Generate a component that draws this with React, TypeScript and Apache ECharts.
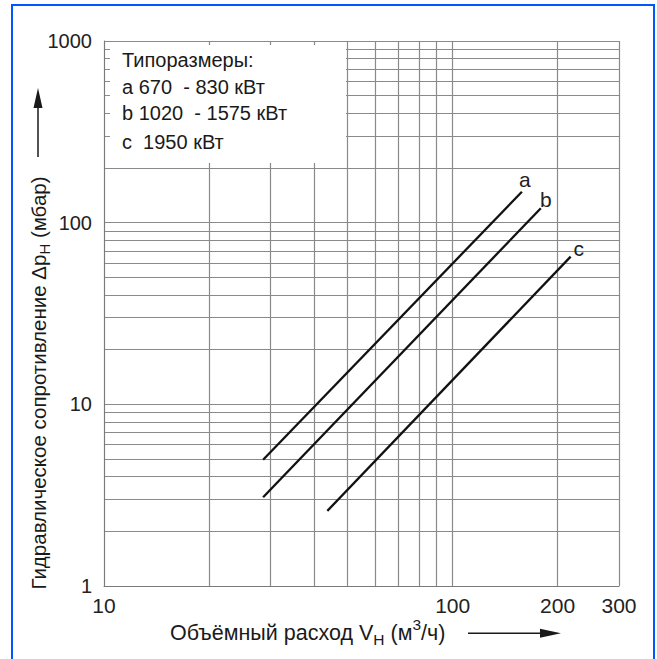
import React, { useEffect, useRef } from 'react';
import * as echarts from 'echarts';

// Axis ticks / labels
const xTickLabels = [10, 100, 200, 300];
const xGridValues = [10, 20, 30, 40, 50, 60, 70, 80, 90, 100, 200, 300];
const yTickLabels = [1, 10, 100, 1000];
const yGridValues = [
  1, 2, 3, 4, 5, 6, 7, 8, 9,
  10, 20, 30, 40, 50, 60, 70, 80, 90,
  100, 200, 300, 400, 500, 600, 700, 800, 900, 1000,
];

// Series (volume flow m3/h -> pressure drop mbar)
const seriesNames = ['a', 'b', 'c'];
const flowA = [28.6, 158];
const dropA = [4.95, 148];
const flowB = [28.6, 179];
const dropB = [3.08, 120];
const flowC = [43.7, 218];
const dropC = [2.59, 65];

// Legend box texts
const legendTitle = 'Типоразмеры:';
const legendLines = ['a 670  - 830 кВт', 'b 1020  - 1575 кВт', 'c  1950 кВт'];

const FONT = '"Liberation Sans", Arial, sans-serif';
const labelOffsets = [[3, -12], [5, -9], [8, -8]];

function buildSeries(name: string, flow: number[], drop: number[], off: number[]) {
  return {
    type: 'line',
    name,
    symbol: 'circle',
    symbolSize: 0,
    showSymbol: true,
    lineStyle: { color: '#111', width: 2.3 },
    itemStyle: { color: '#111' },
    z: 5,
    data: flow.map((x, i) =>
      i === flow.length - 1
        ? {
            value: [x, drop[i]],
            label: {
              show: true,
              formatter: name,
              position: off,
              align: 'center',
              verticalAlign: 'middle',
              fontSize: 21,
              fontFamily: FONT,
              color: '#222',
            },
          }
        : [x, drop[i]]
    ),
  };
}

export default function App() {
  const ref = useRef<HTMLDivElement>(null);
  useEffect(() => {
    if (!ref.current) return;
    const chart = echarts.init(ref.current, undefined, { renderer: 'svg' });
    const gridColor = '#8a8a8a';
    const legendYs = [60, 86.7, 113.3, 141.7];
    chart.setOption({
      animation: false,
      backgroundColor: '#fff',
      textStyle: { fontFamily: FONT },
      grid: { left: 104, right: 38, top: 41, bottom: 73 },
      xAxis: {
        type: 'log',
        logBase: 10,
        min: 10,
        max: 300,
        axisLine: { show: true, lineStyle: { color: '#7a7a7a', width: 1 } },
        axisTick: { show: false, customValues: xGridValues },
        axisLabel: {
          customValues: xTickLabels,
          formatter: (v: number) => String(v),
          fontSize: 21,
          color: '#222',
          margin: 9,
          fontFamily: FONT,
        },
        splitLine: { show: true, lineStyle: { color: gridColor, width: 1.2 } },
      },
      yAxis: {
        type: 'log',
        logBase: 10,
        min: 1,
        max: 1000,
        axisLine: { show: true, lineStyle: { color: '#7a7a7a', width: 1 } },
        axisTick: { show: false, customValues: yGridValues },
        axisLabel: {
          customValues: yTickLabels,
          formatter: (v: number) => String(v),
          fontSize: 20,
          color: '#222',
          margin: 12,
          fontFamily: FONT,
        },
        splitLine: { show: true, lineStyle: { color: gridColor, width: 1.2 } },
      },
      series: [
        buildSeries(seriesNames[0], flowA, dropA, labelOffsets[0]),
        buildSeries(seriesNames[1], flowB, dropB, labelOffsets[1]),
        buildSeries(seriesNames[2], flowC, dropC, labelOffsets[2]),
      ],
      graphic: [
        {
          type: 'rect',
          z: 50,
          silent: true,
          shape: { x: 12, y: 5, width: 642, height: 680 },
          style: { fill: 'none', stroke: '#0057ff', lineWidth: 2 },
        },
        {
          type: 'rect',
          z: 50,
          silent: true,
          shape: { x: 110, y: 45, width: 236, height: 118 },
          style: { fill: '#ffffff' },
        },
        {
          type: 'text',
          z: 51,
          x: 122,
          y: legendYs[0],
          style: { text: legendTitle, font: `20px ${FONT}`, fill: '#1a1a1a', verticalAlign: 'middle' },
        },
        ...legendLines.map((t, i) => ({
          type: 'text',
          z: 51,
          x: 122,
          y: legendYs[i + 1],
          style: { text: t, font: `20px ${FONT}`, fill: '#1a1a1a', verticalAlign: 'middle' },
        })),
        {
          type: 'text',
          z: 51,
          x: 38,
          y: 383,
          rotation: Math.PI / 2,
          style: {
            text: 'Гидравлическое сопротивление Δp{sub|H} (мбар)',
            fontSize: 20.5,
            fontFamily: FONT,
            fill: '#1a1a1a',
            align: 'center',
            verticalAlign: 'middle',
            rich: {
              sub: { fontSize: 15, fontFamily: FONT, fill: '#1a1a1a', padding: [12, 0, 0, 0] },
            },
          },
        },
        {
          type: 'line',
          z: 51,
          shape: { x1: 38, y1: 157, x2: 38, y2: 104 },
          style: { stroke: '#1a1a1a', lineWidth: 1.5 },
        },
        {
          type: 'polygon',
          z: 51,
          shape: { points: [[38, 88], [33.5, 108], [42.5, 108]] },
          style: { fill: '#1a1a1a' },
        },
        {
          type: 'text',
          z: 51,
          x: 170,
          y: 633,
          style: {
            text: 'Объёмный расход V{sub|H} (м{sup|3}/ч)',
            fontSize: 21.5,
            fontFamily: FONT,
            fill: '#1a1a1a',
            align: 'left',
            verticalAlign: 'middle',
            rich: {
              sub: { fontSize: 15.5, fontFamily: FONT, fill: '#1a1a1a', padding: [12, 0, 0, 0] },
              sup: { fontSize: 15.5, fontFamily: FONT, fill: '#1a1a1a', padding: [0, 0, 18, 0] },
            },
          },
        },
        {
          type: 'line',
          z: 51,
          shape: { x1: 468, y1: 633.3, x2: 545, y2: 633.3 },
          style: { stroke: '#1a1a1a', lineWidth: 1.5 },
        },
        {
          type: 'polygon',
          z: 51,
          shape: { points: [[561, 633.3], [540, 628.8], [540, 637.8]] },
          style: { fill: '#1a1a1a' },
        },
      ],
    });
    return () => chart.dispose();
  }, []);
  return (
    <div
      ref={ref}
      style={{ position: 'absolute', left: 0, top: 0, width: 657, height: 659 }}
    />
  );
}
